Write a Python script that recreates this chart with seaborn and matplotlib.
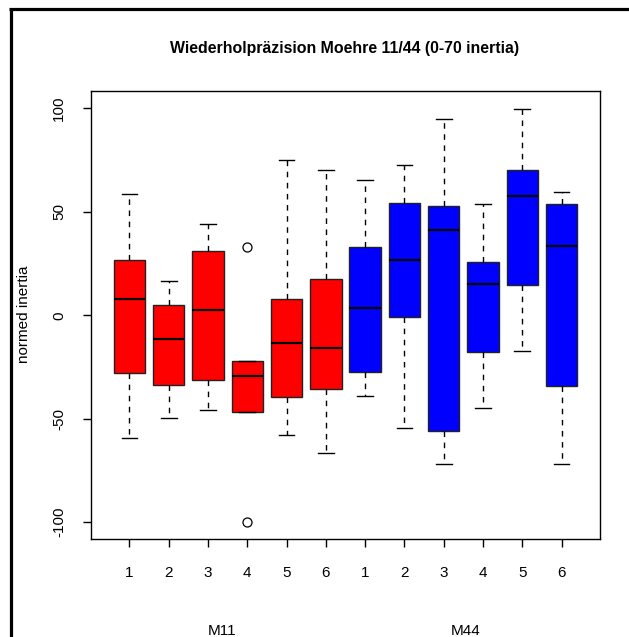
import matplotlib
matplotlib.use("Agg")
import matplotlib.pyplot as plt
import matplotlib.lines as mlines
import seaborn as sns
import pandas as pd

# ---- data (five-number summaries) ----
groups = ["M11"] * 6 + ["M44"] * 6
labels = ["1", "2", "3", "4", "5", "6", "1", "2", "3", "4", "5", "6"]
lower_whisker = [-59.4, -49.5, -45.6, -46.9, -57.7, -66.7, -38.8, -54.4, -71.7, -44.9, -17.2, -71.7]
q1 = [-27.7, -33.7, -31.1, -46.9, -39.3, -35.4, -27.2, -0.7, -55.7, -17.9, 14.5, -34.3]
median = [8.0, -11.5, 2.6, -29.3, -13.2, -15.9, 3.7, 26.6, 41.1, 15.1, 57.5, 33.5]
q3 = [26.6, 4.8, 30.9, -22.2, 8.0, 17.5, 32.8, 54.3, 52.9, 25.7, 70.2, 53.8]
upper_whisker = [58.7, 16.4, 44.1, -22.2, 75.2, 70.2, 65.2, 72.6, 94.8, 53.8, 99.8, 59.4]
outliers = {3: [32.8, -100.0]}
title = "Wiederholpräzision Moehre 11/44 (0-70 inertia)"
ylabel = "normed inertia"
group_colors = {"M11": "#ff0000", "M44": "#0000ff"}

rows = []
for i in range(len(labels)):
    key = f"{groups[i]}-{labels[i]}"
    for v in [lower_whisker[i], q1[i], median[i], q3[i], upper_whisker[i]] + outliers.get(i, []):
        rows.append({"box": key, "group": groups[i], "value": v})
df = pd.DataFrame(rows)
order = [f"{g}-{l}" for g, l in zip(groups, labels)]

plt.rcParams["font.family"] = ["Liberation Sans", "DejaVu Sans"]
fig = plt.figure(figsize=(6.29, 6.37), dpi=100)
ax = fig.add_axes([91 / 629, 1 - 539 / 637, (600 - 91) / 629, (539 - 91) / 637])

sns.boxplot(
    data=df, x="box", y="value", hue="group", order=order,
    palette=group_colors, saturation=1, dodge=False, width=0.8, whis=1.5,
    linecolor="black", linewidth=1.0, legend=False, ax=ax,
    boxprops=dict(edgecolor="#222222"),
    medianprops=dict(color="black", linewidth=1.6),
    whiskerprops=dict(color="black", linestyle=(0, (4, 4)), linewidth=1.0),
    capprops=dict(color="black", linewidth=1.0),
    flierprops=dict(marker="o", markerfacecolor="none", markeredgecolor="black",
                    markersize=6.5, markeredgewidth=0.9),
)

# R-style staples: 0.4 box-units wide
for ln in ax.lines:
    xd = list(ln.get_xdata())
    if len(xd) == 2 and ln.get_linestyle() == "-" and xd[0] != xd[1]:
        yd = ln.get_ydata()
        if yd[0] == yd[1]:
            c = (xd[0] + xd[1]) / 2
            w = abs(xd[1] - xd[0])
            if w < 0.79:
                ln.set_xdata([c - 0.2, c + 0.2])

ax.set_xlim(0.02 - 1, 12.98 - 1)
ax.set_ylim(-108.1, 108.4)
ax.set_xticks(range(12))
ax.set_xticklabels(labels, fontsize=11)
ax.set_yticks([-100, -50, 0, 50, 100])
ax.set_yticklabels(["-100", "-50", "0", "50", "100"], rotation=90, va="center", ha="center", fontsize=11)
ax.tick_params(axis="x", length=6, width=1, pad=13.5, colors="black")
ax.tick_params(axis="y", length=6, width=1, pad=16.8, colors="black")
ax.set_xlabel("")
ax.set_ylabel("")
for s in ax.spines.values():
    s.set_linewidth(1.0)
    s.set_color("black")
ax.grid(False)
ax.set_facecolor("white")

fig.text(345 / 629, 1 - 48 / 637, title, ha="center", va="center", fontsize=11.4, fontweight="bold")
fig.text(24 / 629, 1 - 314 / 637, ylabel, ha="center", va="center", rotation=90, fontsize=11)
fig.text(221.7 / 629, 1 - 631 / 637, "M11", ha="center", va="center", fontsize=11)
fig.text(465.7 / 629, 1 - 631 / 637, "M44", ha="center", va="center", fontsize=11)

# figure frame (top and left edges visible)
fig.add_artist(mlines.Line2D([10.5 / 629, 10.5 / 629], [0, 1 - 8.5 / 637], color="black", linewidth=2.3,
                             solid_capstyle="butt"))
fig.add_artist(mlines.Line2D([9 / 629, 1], [1 - 8.5 / 637, 1 - 8.5 / 637], color="black", linewidth=2.3,
                             solid_capstyle="butt"))

fig.savefig("out.png", dpi=100, facecolor="white")
